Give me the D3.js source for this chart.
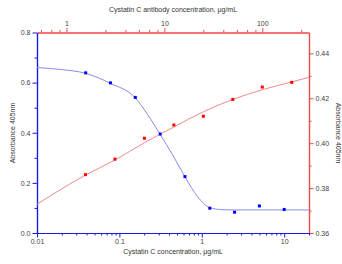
<!DOCTYPE html>
<html lang="en">
<head>
  <meta charset="UTF-8">
  <title>Cystatin C</title>
  <script src="https://cdn.jsdelivr.net/npm/d3@7"></script>
  <style>
    body { margin: 0; background: #fff; }
    text { font-family: "Liberation Sans", Arial, sans-serif; }
  </style>
</head>
<body>
  <svg id="chart" width="342" height="264"></svg>
  <script>
    // Cystatin C standard (blue, bottom x / left y)
    const cysConc = [0.039, 0.078, 0.156, 0.3125, 0.625, 1.25, 2.5, 5, 10];
    const cysAbs = [0.639, 0.599, 0.541, 0.395, 0.225, 0.099, 0.083, 0.108, 0.094];
    // fitted curve
    const cysFitConc = [0.01, 0.02, 0.039, 0.078, 0.156, 0.22, 0.3125, 0.444, 0.625, 0.89, 1.25, 1.79, 2.5, 5, 20];
    const cysFitAbs = [0.660, 0.652, 0.637, 0.597, 0.539, 0.473, 0.393, 0.311, 0.224, 0.145, 0.101, 0.093, 0.092, 0.092, 0.092];

    // antibody titration (red, top x / right y)
    const abConc = [1.5625, 3.125, 6.25, 12.5, 25, 50, 100, 200];
    const abAbs = [0.386, 0.3929, 0.4022, 0.4081, 0.412, 0.4195, 0.425, 0.4271];
    const abFitConc = [0.5, 1.5625, 3.125, 6.25, 12.5, 25, 50, 100, 200, 300];
    const abFitAbs = [0.3728, 0.3858, 0.3925, 0.4002, 0.4072, 0.414, 0.4195, 0.4238, 0.4273, 0.4293];

    // tick labels
    const bottomMajor = [0.01, 0.1, 1, 10];
    const bottomLabels = ["0.01", "0.1", "1", "10"];
    const topMajor = [1, 10, 100];
    const topLabels = ["1", "10", "100"];
    const topMinor = [0.55, 0.7, 0.85, 2.5, 4, 5.5, 7, 8.5, 25, 40, 55, 70, 85, 250];
    const leftMajor = [0, 0.2, 0.4, 0.6, 0.8];
    const leftLabels = ["0.0", "0.2", "0.4", "0.6", "0.8"];
    const leftMinor = [0.1, 0.3, 0.5, 0.7];
    const rightMajor = [0.36, 0.38, 0.40, 0.42, 0.44];
    const rightLabels = ["0.36", "0.38", "0.40", "0.42", "0.44"];
    const rightMinor = [0.37, 0.39, 0.41, 0.43];

    const blue = "#1a1aee", red = "#f04848";
    const pL = 37, pR = 309, pT = 32.5, pB = 233;

    const svg = d3.select("#chart");
    const x = d3.scaleLog().domain([0.01, 20]).range([pL, pR]);
    const xTop = d3.scaleLog().domain([0.5, 300]).range([pL, pR]);
    const yL = d3.scaleLinear().domain([0, 0.8]).range([pB, pT]);
    const yR = d3.scaleLinear().domain([0.36, 0.4493]).range([pB, pT]);

    let bottomMinor = [];
    [0.01, 0.1, 1, 10].forEach(d => {
      for (let k = 2; k <= 9; k++) if (d * k <= 20) bottomMinor.push(d * k);
    });

    function styleAxis(g, color) {
      g.select(".domain").attr("stroke", color).attr("stroke-width", 1.2);
      g.selectAll(".tick line").attr("stroke", color);
      g.selectAll(".tick text").attr("fill", "#444").style("font-size", "7px");
    }

    function addAxis(axisFn, scale, major, labels, minor, transform, color) {
      svg.append("g").attr("transform", transform)
        .call(axisFn(scale).tickValues(minor).tickSize(2.5).tickSizeOuter(0).tickFormat(""))
        .call(g => styleAxis(g, color));
      svg.append("g").attr("transform", transform)
        .call(axisFn(scale).tickValues(major).tickSize(4.5).tickSizeOuter(0).tickPadding(2)
          .tickFormat((d, i) => labels[i]))
        .call(g => styleAxis(g, color));
    }

    addAxis(d3.axisTop, xTop, topMajor, topLabels, topMinor, `translate(0,${pT})`, red);
    addAxis(d3.axisRight, yR, rightMajor, rightLabels, rightMinor, `translate(${pR},0)`, red);
    addAxis(d3.axisBottom, x, bottomMajor, bottomLabels, bottomMinor, `translate(0,${pB})`, blue);
    addAxis(d3.axisLeft, yL, leftMajor, leftLabels, leftMinor, `translate(${pL},0)`, blue);

    // fit curves
    const cysLine = d3.line().x(d => x(d[0])).y(d => yL(d[1])).curve(d3.curveMonotoneX);
    svg.append("path")
      .datum(d3.zip(cysFitConc, cysFitAbs))
      .attr("d", cysLine)
      .attr("fill", "none").attr("stroke", "#8a8ae8").attr("stroke-width", 1);

    const abLine = d3.line().x(d => xTop(d[0])).y(d => yR(d[1])).curve(d3.curveMonotoneX);
    svg.append("path")
      .datum(d3.zip(abFitConc, abFitAbs))
      .attr("d", abLine)
      .attr("fill", "none").attr("stroke", "#f08a8a").attr("stroke-width", 1);

    // points
    const s = 3;
    svg.selectAll(".cysPt")
      .data(d3.zip(cysConc, cysAbs))
      .join("rect")
      .attr("class", "cysPt")
      .attr("x", d => x(d[0]) - s / 2)
      .attr("y", d => yL(d[1]) - s / 2)
      .attr("width", s).attr("height", s)
      .attr("fill", "#0000ff");
    svg.selectAll(".abPt")
      .data(d3.zip(abConc, abAbs))
      .join("rect")
      .attr("class", "abPt")
      .attr("x", d => xTop(d[0]) - s / 2)
      .attr("y", d => yR(d[1]) - s / 2)
      .attr("width", s).attr("height", s)
      .attr("fill", "#ff0000");

    // axis titles
    const titleStyle = sel => sel.attr("fill", "#333").style("font-size", "7px").attr("text-anchor", "middle");
    svg.append("text").attr("x", 173).attr("y", 254)
      .text("Cystatin C concentration, μg/mL").call(titleStyle);
    svg.append("text").attr("x", 173).attr("y", 12)
      .text("Cystatin C antibody concentration, μg/mL").call(titleStyle);
    svg.append("text").attr("transform", "translate(15,133) rotate(-90)")
      .text("Absorbance 405nm").call(titleStyle);
    svg.append("text").attr("transform", "translate(336,133) rotate(90)")
      .text("Absorbance 405nm").call(titleStyle);
  </script>
</body>
</html>
